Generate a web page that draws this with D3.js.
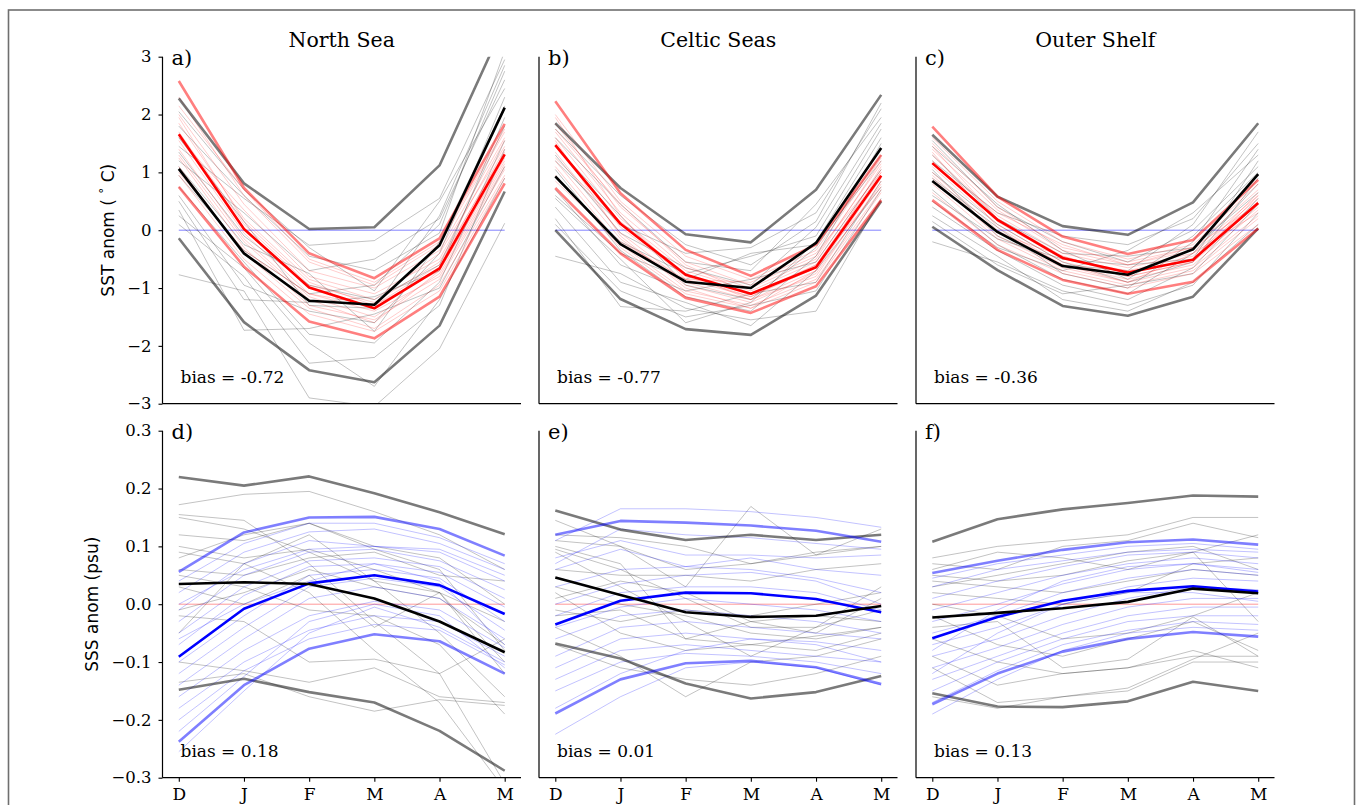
<!DOCTYPE html>
<html>
<head>
<meta charset="utf-8">
<script src="https://cdn.jsdelivr.net/npm/d3@7"></script>
<style>
  body { margin: 0; background: #fff; }
  svg { display: block; }
</style>
</head>
<body>
<svg id="chart" width="1358" height="805"></svg>
<script>
// ---- data ----
const months = ["D", "J", "F", "M", "A", "M"];
const seaNames = ["North Sea", "Celtic Seas", "Outer Shelf"];
const sstBias = ["-0.72", "-0.77", "-0.36"];
const sssBias = ["0.18", "0.01", "0.13"];
const sstTicks = [-3, -2, -1, 0, 1, 2, 3];
const sssTicks = [-0.3, -0.2, -0.1, 0.0, 0.1, 0.2, 0.3];

// North Sea SST
const nsSstObsYears = [
  [1.45, 0.55, -0.26, -0.18, 0.55, 2.95],
  [-0.77, -1.05, -2.90, -3.05, -2.05, 0.12],
  [0.35, -1.73, -1.70, -1.45, -1.00, 1.10],
  [0.10, -0.80, -2.30, -2.20, -1.30, 1.40],
  [1.20, 0.30, -0.70, -0.50, 0.20, 2.60],
  [0.60, -0.95, -1.40, -1.60, -0.40, 2.30],
  [1.80, 0.60, -0.45, -0.70, -0.05, 3.10],
  [0.95, -0.35, -1.10, -0.95, 0.10, 2.75],
  [1.35, -0.10, -0.95, -1.20, -0.60, 1.80],
  [0.75, -0.55, -1.80, -1.95, -0.90, 1.55],
  [2.05, 0.70, -0.30, -1.05, 0.50, 2.45],
  [1.10, -0.25, -0.75, -1.75, -0.20, 2.15],
  [0.50, -1.20, -1.25, -1.15, -0.70, 1.95],
  [1.60, 0.15, -1.30, -1.35, 0.25, 2.85],
  [0.25, -0.65, -1.95, -2.70, -1.20, 0.90]
];
const nsSstModelYears = [
  [2.30, 0.60, -0.55, -0.95, -0.25, 1.70],
  [2.00, 0.45, -0.70, -1.00, -0.35, 1.60],
  [1.85, 0.20, -0.85, -1.20, -0.40, 1.45],
  [1.70, 0.10, -0.95, -1.25, -0.55, 1.35],
  [1.55, -0.05, -1.10, -1.30, -0.70, 1.25],
  [1.40, -0.15, -1.15, -1.50, -0.75, 1.15],
  [1.25, -0.30, -1.30, -1.55, -0.85, 1.05],
  [1.10, -0.40, -1.35, -1.70, -0.95, 0.95],
  [0.95, -0.50, -1.45, -1.75, -1.05, 0.90],
  [2.15, 0.70, -0.50, -0.90, -0.20, 1.75],
  [1.60, 0.35, -0.80, -1.10, -0.50, 1.55],
  [1.30, -0.20, -1.20, -1.60, -0.70, 1.20],
  [1.95, 0.15, -0.90, -1.30, -0.60, 1.40],
  [1.00, -0.35, -1.10, -1.40, -0.80, 1.10]
];
const nsSstObsMean = [1.06, -0.40, -1.22, -1.29, -0.26, 2.12];
const nsSstModelMean = [1.66, 0.02, -0.99, -1.35, -0.66, 1.31];
const nsSstObsHi = [2.28, 0.81, 0.02, 0.05, 1.12, 3.59];
const nsSstObsLo = [-0.14, -1.59, -2.42, -2.63, -1.65, 0.67];
const nsSstModelHi = [2.58, 0.73, -0.40, -0.83, -0.14, 1.84];
const nsSstModelLo = [0.75, -0.63, -1.58, -1.87, -1.15, 0.81];

// Celtic Seas SST
const csSstObsYears = [
  [-0.45, -0.75, -1.35, -1.55, -1.40, 0.55],
  [0.20, -1.32, -1.40, -1.10, -0.90, 0.85],
  [1.20, 0.10, -0.40, -0.30, 0.30, 2.10],
  [0.55, -0.50, -1.60, -1.25, -0.20, 1.60],
  [1.60, 0.45, -0.55, -0.70, 0.45, 1.95],
  [0.90, -0.20, -0.75, -0.45, -0.10, 1.75],
  [0.40, -0.90, -1.25, -1.65, -0.70, 0.75],
  [1.45, 0.25, -0.95, -1.20, -0.30, 1.30],
  [0.70, -0.60, -1.05, -0.85, -0.55, 1.05],
  [1.05, -0.35, -1.15, -1.40, -0.45, 1.50],
  [1.75, 0.60, -0.25, -0.60, 0.15, 2.20],
  [0.10, -1.05, -1.50, -1.30, -1.05, 0.70],
  [1.30, -0.05, -0.65, -0.95, 0.05, 1.85],
  [0.60, -0.40, -0.85, -0.40, -0.25, 1.20]
];
const csSstModelYears = [
  [2.00, 0.50, -0.45, -0.85, -0.35, 1.25],
  [1.85, 0.40, -0.55, -0.95, -0.45, 1.15],
  [1.70, 0.30, -0.65, -1.00, -0.50, 1.20],
  [1.60, 0.20, -0.70, -1.05, -0.55, 1.05],
  [1.50, 0.05, -0.80, -1.15, -0.65, 0.95],
  [1.35, -0.05, -0.90, -1.20, -0.70, 0.90],
  [1.20, -0.15, -0.95, -1.25, -0.75, 0.80],
  [1.10, -0.25, -1.05, -1.30, -0.85, 0.70],
  [0.95, -0.30, -1.10, -1.35, -0.90, 0.65],
  [1.75, 0.45, -0.60, -1.10, -0.60, 1.00],
  [1.25, 0.15, -0.75, -1.20, -0.80, 0.85],
  [1.55, -0.10, -1.00, -1.35, -0.70, 1.10],
  [0.85, -0.20, -0.85, -1.15, -0.60, 0.75],
  [1.95, 0.25, -0.85, -0.90, -0.40, 1.00]
];
const csSstObsMean = [0.93, -0.24, -0.89, -1.00, -0.22, 1.42];
const csSstModelMean = [1.47, 0.11, -0.77, -1.10, -0.64, 0.94];
const csSstObsHi = [1.85, 0.73, -0.07, -0.21, 0.70, 2.34];
const csSstObsLo = [0.00, -1.19, -1.71, -1.81, -1.13, 0.50];
const csSstModelHi = [2.23, 0.64, -0.34, -0.79, -0.25, 1.30];
const csSstModelLo = [0.73, -0.40, -1.17, -1.43, -0.97, 0.52];

// Outer Shelf SST
const osSstObsYears = [
  [-0.20, -0.55, -1.05, -1.30, -0.95, 0.30],
  [0.25, -0.45, -1.20, -1.40, -0.90, 0.10],
  [1.20, 0.30, -0.10, -0.25, 0.20, 1.50],
  [0.60, -0.15, -0.50, -0.60, -0.50, 1.20],
  [1.45, 0.45, -0.35, -0.85, -0.10, 1.00],
  [0.90, 0.05, -0.75, -1.00, -0.20, 1.40],
  [0.40, -0.35, -0.95, -1.20, -0.65, 0.55],
  [1.05, -0.10, -0.60, -0.70, 0.10, 1.70],
  [0.70, -0.25, -0.85, -1.10, -0.40, 0.80],
  [1.30, 0.20, -0.40, -0.45, -0.30, 0.65],
  [0.15, -0.60, -1.10, -0.95, -0.75, 0.45],
  [1.00, 0.10, -0.55, -0.90, -0.55, 0.90],
  [0.50, -0.30, -0.70, -0.35, 0.30, 1.30],
  [1.55, 0.40, -0.20, -0.55, 0.00, 1.10]
];
const osSstModelYears = [
  [1.60, 0.50, -0.20, -0.50, -0.25, 0.80],
  [1.50, 0.40, -0.30, -0.55, -0.30, 0.70],
  [1.40, 0.35, -0.35, -0.60, -0.35, 0.60],
  [1.30, 0.25, -0.40, -0.65, -0.40, 0.55],
  [1.20, 0.15, -0.50, -0.70, -0.45, 0.50],
  [1.10, 0.10, -0.55, -0.80, -0.55, 0.40],
  [1.00, 0.00, -0.60, -0.85, -0.60, 0.35],
  [0.90, -0.10, -0.65, -0.90, -0.65, 0.25],
  [0.80, -0.15, -0.70, -0.95, -0.70, 0.20],
  [0.65, -0.25, -0.75, -1.00, -0.75, 0.10],
  [1.45, 0.20, -0.45, -0.75, -0.50, 0.65],
  [1.15, 0.30, -0.25, -0.60, -0.30, 0.45],
  [0.95, -0.05, -0.45, -0.80, -0.55, 0.60],
  [1.35, 0.05, -0.60, -0.90, -0.40, 0.30]
];
const osSstObsMean = [0.85, -0.03, -0.62, -0.77, -0.33, 0.97];
const osSstModelMean = [1.16, 0.18, -0.48, -0.73, -0.51, 0.47];
const osSstObsHi = [1.65, 0.58, 0.07, -0.08, 0.48, 1.85];
const osSstObsLo = [0.06, -0.69, -1.31, -1.48, -1.15, 0.03];
const osSstModelHi = [1.79, 0.58, -0.11, -0.41, -0.17, 0.87];
const osSstModelLo = [0.52, -0.34, -0.86, -1.10, -0.89, 0.03];

// North Sea SSS
const nsSssObsYears = [
  [0.172, 0.190, 0.195, 0.160, 0.120, 0.060],
  [0.155, 0.145, 0.070, -0.030, -0.120, -0.310],
  [0.150, 0.130, 0.090, 0.040, -0.050, -0.160],
  [0.120, 0.110, 0.140, 0.095, 0.060, -0.080],
  [0.100, 0.080, 0.095, 0.060, 0.020, -0.030],
  [0.090, 0.070, 0.020, -0.080, -0.170, -0.320],
  [0.060, 0.050, 0.080, 0.090, 0.050, 0.040],
  [0.050, 0.030, -0.010, -0.020, -0.070, -0.190],
  [-0.010, 0.020, 0.060, 0.030, 0.010, -0.070],
  [-0.020, -0.030, -0.100, -0.095, -0.120, -0.060],
  [-0.050, 0.070, 0.120, 0.040, 0.020, -0.120],
  [-0.100, -0.115, -0.135, -0.110, -0.160, -0.170],
  [-0.135, -0.120, -0.160, -0.185, -0.165, -0.175],
  [0.080, 0.120, 0.140, 0.100, 0.080, 0.000],
  [0.030, 0.000, 0.050, -0.040, 0.020, -0.100]
];
const nsSssModelYears = [
  [0.040, 0.105, 0.140, 0.140, 0.115, 0.070],
  [0.020, 0.090, 0.125, 0.130, 0.105, 0.060],
  [-0.010, 0.070, 0.110, 0.100, 0.090, 0.040],
  [-0.030, 0.050, 0.090, 0.095, 0.075, 0.025],
  [-0.050, 0.030, 0.075, 0.080, 0.065, 0.010],
  [-0.070, 0.015, 0.065, 0.070, 0.055, -0.005],
  [-0.100, -0.020, 0.050, 0.060, 0.045, -0.030],
  [-0.120, -0.040, 0.030, 0.045, 0.030, -0.045],
  [-0.140, -0.060, 0.010, 0.030, 0.010, -0.060],
  [-0.160, -0.080, -0.020, 0.005, -0.010, -0.075],
  [-0.180, -0.100, -0.045, -0.020, -0.030, -0.090],
  [-0.200, -0.115, -0.060, -0.035, -0.045, -0.105],
  [-0.220, -0.125, -0.030, 0.000, -0.020, -0.110],
  [-0.060, 0.000, 0.040, 0.070, 0.040, -0.070],
  [-0.255, -0.150, -0.050, -0.005, -0.040, -0.100],
  [0.000, 0.060, 0.095, 0.100, 0.095, 0.050]
];
const nsSssObsMean = [0.035, 0.038, 0.035, 0.010, -0.030, -0.083];
const nsSssModelMean = [-0.091, -0.008, 0.036, 0.050, 0.033, -0.017];
const nsSssObsHi = [0.220, 0.205, 0.221, 0.192, 0.159, 0.121];
const nsSssObsLo = [-0.148, -0.129, -0.152, -0.170, -0.219, -0.288];
const nsSssModelHi = [0.056, 0.124, 0.150, 0.151, 0.130, 0.084];
const nsSssModelLo = [-0.238, -0.140, -0.077, -0.052, -0.064, -0.120];

// Celtic Seas SSS
const csSssObsYears = [
  [0.145, 0.100, 0.060, 0.070, 0.090, 0.100],
  [0.110, 0.100, 0.030, 0.169, 0.085, 0.100],
  [0.095, 0.060, 0.010, -0.040, -0.040, -0.010],
  [0.100, 0.070, -0.060, -0.070, -0.055, -0.040],
  [0.090, 0.030, -0.030, -0.090, -0.040, 0.030],
  [0.060, 0.050, 0.050, 0.040, 0.060, 0.070],
  [0.030, 0.000, -0.020, -0.050, -0.060, -0.040],
  [0.020, -0.050, -0.080, -0.070, -0.080, -0.050],
  [-0.010, -0.030, -0.010, -0.020, 0.000, 0.020],
  [-0.040, -0.090, -0.160, -0.100, -0.090, -0.060],
  [-0.070, -0.110, -0.130, -0.140, -0.120, -0.090],
  [0.010, 0.040, 0.020, -0.030, -0.020, -0.030],
  [0.120, 0.115, 0.100, 0.070, 0.085, 0.130],
  [-0.020, -0.010, -0.060, -0.030, -0.050, 0.010]
];
const csSssModelYears = [
  [0.110, 0.165, 0.165, 0.160, 0.150, 0.133],
  [0.080, 0.110, 0.085, 0.085, 0.080, 0.085],
  [0.060, 0.095, 0.065, 0.080, 0.060, 0.050],
  [0.030, 0.060, 0.065, 0.060, 0.045, 0.020],
  [0.000, 0.035, 0.050, 0.055, 0.040, 0.000],
  [-0.020, 0.020, 0.030, 0.030, 0.020, -0.010],
  [-0.040, -0.005, 0.010, 0.000, -0.010, -0.030],
  [-0.060, -0.020, -0.010, -0.020, -0.030, -0.050],
  [-0.090, -0.040, -0.030, -0.040, -0.050, -0.060],
  [-0.110, -0.060, -0.050, -0.060, -0.065, -0.080],
  [-0.130, -0.080, -0.070, -0.080, -0.090, -0.100],
  [-0.150, -0.100, -0.085, -0.090, -0.100, -0.120],
  [-0.225, -0.160, -0.110, -0.100, -0.110, -0.140],
  [0.070, 0.130, 0.120, 0.115, 0.105, 0.095],
  [-0.180, -0.120, -0.080, -0.060, -0.070, -0.100]
];
const csSssObsMean = [0.046, 0.016, -0.014, -0.022, -0.020, -0.003];
const csSssModelMean = [-0.035, 0.006, 0.020, 0.019, 0.009, -0.014];
const csSssObsHi = [0.162, 0.129, 0.111, 0.120, 0.111, 0.120];
const csSssObsLo = [-0.068, -0.094, -0.137, -0.163, -0.152, -0.124];
const csSssModelHi = [0.120, 0.144, 0.141, 0.136, 0.127, 0.108];
const csSssModelLo = [-0.189, -0.130, -0.102, -0.098, -0.109, -0.138];

// Outer Shelf SSS
const osSssObsYears = [
  [0.080, 0.100, 0.110, 0.120, 0.150, 0.150],
  [0.070, 0.060, 0.100, 0.110, 0.140, 0.115],
  [0.060, 0.090, 0.080, 0.060, 0.090, 0.120],
  [0.050, 0.040, 0.050, 0.075, 0.090, -0.030],
  [0.030, 0.050, 0.070, 0.090, 0.100, 0.060],
  [0.020, 0.010, 0.000, 0.020, 0.070, 0.080],
  [0.000, -0.020, -0.060, -0.050, -0.020, 0.020],
  [-0.040, -0.030, -0.110, -0.095, -0.022, -0.090],
  [-0.060, -0.100, -0.120, -0.110, -0.080, -0.110],
  [-0.090, -0.140, -0.120, -0.110, -0.090, -0.090],
  [-0.110, -0.170, -0.160, -0.150, -0.100, -0.100],
  [-0.160, -0.180, -0.160, -0.145, -0.095, -0.050],
  [-0.020, -0.070, -0.090, -0.060, -0.030, -0.080],
  [0.040, 0.030, 0.020, 0.040, 0.060, 0.050]
];
const osSssModelYears = [
  [0.045, 0.070, 0.085, 0.100, 0.105, 0.095],
  [0.030, 0.060, 0.075, 0.090, 0.095, 0.090],
  [0.010, 0.040, 0.065, 0.085, 0.090, 0.080],
  [-0.010, 0.020, 0.050, 0.070, 0.080, 0.070],
  [-0.030, 0.000, 0.035, 0.060, 0.070, 0.060],
  [-0.050, -0.020, 0.020, 0.045, 0.060, 0.050],
  [-0.070, -0.040, 0.000, 0.030, 0.045, 0.040],
  [-0.090, -0.060, -0.020, 0.010, 0.030, 0.025],
  [-0.110, -0.075, -0.035, -0.005, 0.010, 0.010],
  [-0.130, -0.090, -0.050, -0.020, -0.005, -0.005],
  [-0.150, -0.100, -0.060, -0.030, -0.020, -0.020],
  [-0.170, -0.115, -0.070, -0.045, -0.030, -0.035],
  [-0.190, -0.130, -0.080, -0.050, -0.040, -0.045],
  [-0.120, -0.050, 0.000, 0.020, 0.020, 0.005],
  [-0.080, -0.010, 0.040, 0.065, 0.070, 0.055]
];
const osSssObsMean = [-0.023, -0.015, -0.007, 0.004, 0.027, 0.019];
const osSssModelMean = [-0.059, -0.022, 0.006, 0.023, 0.031, 0.022];
const osSssObsHi = [0.108, 0.147, 0.164, 0.175, 0.188, 0.186];
const osSssObsLo = [-0.154, -0.177, -0.178, -0.168, -0.134, -0.150];
const osSssModelHi = [0.054, 0.075, 0.094, 0.107, 0.112, 0.103];
const osSssModelLo = [-0.173, -0.120, -0.082, -0.060, -0.048, -0.056];

// ---- layout ----
const W = 1358, H = 805;
const panelLefts = [162.5, 539, 916];
const panelW = 358.5;
const rowTops = [56.7, 430.7];
const panelH = 347;
const SERIF = "'DejaVu Serif', serif";
const SANS = "'DejaVu Sans', sans-serif";

const svg = d3.select("#chart");
svg.append("rect").attr("width", W).attr("height", H).attr("fill", "#fff");
// outer frame of the figure
svg.append("rect")
    .attr("x", 8.5).attr("y", 10).attr("width", 1346).attr("height", 840)
    .attr("fill", "none").attr("stroke", "#6f6f6f").attr("stroke-width", 1.6);

const rows = [
  {
    kind: "sst", ticks: sstTicks, domain: [-3, 3], fmt: d3.format("d"),
    zeroColor: "rgba(0,0,255,0.55)", thin: "rgba(255,0,0,0.25)",
    band: "rgba(255,0,0,0.5)", mean: "#ff0000", bias: sstBias, labels: ["a)", "b)", "c)"],
    panels: [
      [nsSstObsYears, nsSstModelYears, nsSstObsMean, nsSstModelMean, nsSstObsHi, nsSstObsLo, nsSstModelHi, nsSstModelLo],
      [csSstObsYears, csSstModelYears, csSstObsMean, csSstModelMean, csSstObsHi, csSstObsLo, csSstModelHi, csSstModelLo],
      [osSstObsYears, osSstModelYears, osSstObsMean, osSstModelMean, osSstObsHi, osSstObsLo, osSstModelHi, osSstModelLo]
    ]
  },
  {
    kind: "sss", ticks: sssTicks, domain: [-0.3, 0.3], fmt: d3.format(".1f"),
    zeroColor: "rgba(255,0,0,0.45)", thin: "rgba(0,0,255,0.3)",
    band: "rgba(0,0,255,0.5)", mean: "#0000ff", bias: sssBias, labels: ["d)", "e)", "f)"],
    panels: [
      [nsSssObsYears, nsSssModelYears, nsSssObsMean, nsSssModelMean, nsSssObsHi, nsSssObsLo, nsSssModelHi, nsSssModelLo],
      [csSssObsYears, csSssModelYears, csSssObsMean, csSssModelMean, csSssObsHi, csSssObsLo, csSssModelHi, csSssModelLo],
      [osSssObsYears, osSssModelYears, osSssObsMean, osSssModelMean, osSssObsHi, osSssObsLo, osSssModelHi, osSssModelLo]
    ]
  }
];

function drawPanel(row, r, c) {
    const left = panelLefts[c], top = rowTops[r];
    const x = d3.scaleLinear().domain([-0.25, 5.25]).range([left, left + panelW]);
    const y = d3.scaleLinear().domain(row.domain).range([top + panelH, top]);
    const line = d3.line().x((d, i) => x(i)).y(d => y(d));
    const [obsYears, modYears, obsMean, modMean, obsHi, obsLo, modHi, modLo] = row.panels[c];

    const clipId = "clip-" + r + "-" + c;
    svg.append("clipPath").attr("id", clipId)
        .append("rect").attr("x", left).attr("y", top).attr("width", panelW).attr("height", panelH);

    const g = svg.append("g").attr("clip-path", "url(#" + clipId + ")")
        .attr("fill", "none").attr("stroke-linejoin", "round");

    // zero line
    g.append("line")
        .attr("x1", x(0)).attr("x2", x(5)).attr("y1", y(0)).attr("y2", y(0))
        .attr("stroke", row.zeroColor).attr("stroke-width", 0.9);

    g.selectAll(".obs-year").data(obsYears).enter().append("path")
        .attr("class", "obs-year").attr("d", line)
        .attr("stroke", "rgba(0,0,0,0.3)").attr("stroke-width", 0.8);
    g.selectAll(".mod-year").data(modYears).enter().append("path")
        .attr("class", "mod-year").attr("d", line)
        .attr("stroke", row.thin).attr("stroke-width", 0.8);

    const thick = [
        {d: obsHi, col: "rgba(0,0,0,0.52)"},
        {d: obsLo, col: "rgba(0,0,0,0.52)"},
        {d: modHi, col: row.band},
        {d: modLo, col: row.band},
        {d: modMean, col: row.mean},
        {d: obsMean, col: "#000"}
    ];
    g.selectAll(".thick").data(thick).enter().append("path")
        .attr("class", "thick").attr("d", d => line(d.d))
        .attr("stroke", d => d.col).attr("stroke-width", 2.6);

    // spines
    const ax = svg.append("g").attr("stroke", "#000").attr("stroke-width", 1.2);
    ax.append("line").attr("x1", left).attr("x2", left).attr("y1", top).attr("y2", top + panelH);
    ax.append("line").attr("x1", left).attr("x2", left + panelW).attr("y1", top + panelH).attr("y2", top + panelH);

    if (c === 0) {
        const yAxis = svg.append("g").attr("transform", "translate(" + left + ",0)")
            .call(d3.axisLeft(y).tickValues(row.ticks).tickFormat(row.fmt).tickSize(4).tickPadding(7));
        yAxis.select(".domain").remove();
        yAxis.selectAll("line").attr("stroke-width", 1.1);
        yAxis.selectAll("text").attr("font-family", SERIF).attr("font-size", 16.5).attr("fill", "#000");
    }
    if (r === 1) {
        const xAxis = svg.append("g").attr("transform", "translate(0," + (top + panelH) + ")")
            .call(d3.axisBottom(x).tickValues(d3.range(6)).tickFormat(i => months[i]).tickSize(4).tickPadding(6));
        xAxis.select(".domain").remove();
        xAxis.selectAll("line").attr("stroke-width", 1.1);
        xAxis.selectAll("text").attr("font-family", SERIF).attr("font-size", 17).attr("fill", "#000");
    }

    svg.append("text").attr("x", left + 9).attr("y", top + 8)
        .attr("font-family", SERIF).attr("font-size", 21).text(row.labels[c]);
    svg.append("text").attr("x", left + 18).attr("y", top + panelH - 21)
        .attr("font-family", SERIF).attr("font-size", 17).text("bias = " + row.bias[c]);
}

rows.forEach((row, r) => row.panels.forEach((p, c) => drawPanel(row, r, c)));

// titles
svg.selectAll(".title").data(seaNames).enter().append("text")
    .attr("class", "title")
    .attr("x", (d, i) => panelLefts[i] + panelW / 2).attr("y", 47)
    .attr("text-anchor", "middle").attr("font-family", SERIF).attr("font-size", 20.5)
    .text(d => d);

// y labels
const sstLabel = svg.append("text")
    .attr("transform", "translate(114," + (rowTops[0] + panelH / 2) + ") rotate(-90)")
    .attr("text-anchor", "middle").attr("font-family", SANS).attr("font-size", 17);
sstLabel.append("tspan").text("SST anom ( ");
sstLabel.append("tspan").attr("dy", -6).attr("font-size", 12).text("°");
sstLabel.append("tspan").attr("dy", 6).text(" C)");

svg.append("text")
    .attr("transform", "translate(98," + (rowTops[1] + panelH / 2) + ") rotate(-90)")
    .attr("text-anchor", "middle").attr("font-family", SANS).attr("font-size", 17)
    .text("SSS anom (psu)");
</script>
</body>
</html>
